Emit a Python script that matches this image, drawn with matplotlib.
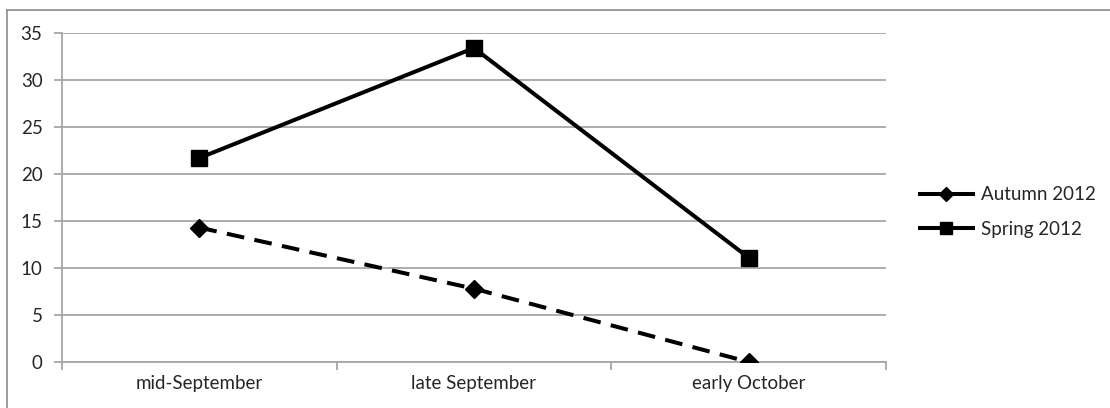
import matplotlib.pyplot as plt
from matplotlib.lines import Line2D

periods = ["mid-September", "late September", "early October"]
autumn_2012 = [14.3, 7.8, 0.0]
spring_2012 = [21.7, 33.4, 11.1]
y_ticks = [0, 5, 10, 15, 20, 25, 30, 35]

plt.rcParams['font.family'] = ['Lato', 'DejaVu Sans']
text_color = '#262626'
grid_color = '#a6a6a6'
fs = 13.5

fig = plt.figure(figsize=(11.10, 4.08), dpi=100)
ax = fig.add_axes([62 / 1110, 1 - 362 / 408, (886 - 62) / 1110, (362 - 33) / 408])

x = list(range(len(periods)))
ax.plot(x, autumn_2012, color='black', lw=2.9, linestyle=(0, (4.4, 2.6)),
        marker='D', markersize=9, label='Autumn 2012', zorder=3)
ax.plot(x, spring_2012, color='black', lw=2.9, marker='s', markersize=11,
        label='Spring 2012', zorder=3)

ax.set_xlim(-0.5, len(periods) - 0.5)
ax.set_ylim(0, 35)
ax.set_yticks(y_ticks)
ax.set_xticks(x)
ax.set_xticklabels(periods)
ax.set_xticks([-0.5, 0.5, 1.5, 2.5], minor=True)

ax.grid(axis='y', color=grid_color, lw=1.3, zorder=0)
for side in ['top', 'right']:
    ax.spines[side].set_visible(False)
for side in ['left', 'bottom']:
    ax.spines[side].set_color(grid_color)
    ax.spines[side].set_linewidth(1.3)

ax.tick_params(axis='y', length=6, width=1.3, color=grid_color, labelcolor=text_color,
               labelsize=fs, pad=8)
ax.tick_params(axis='x', which='major', length=0, labelcolor=text_color, labelsize=fs, pad=9)
ax.tick_params(axis='x', which='minor', length=6, width=1.3, color=grid_color)

handles = [
    Line2D([], [], color='black', lw=2.9, linestyle='-', marker='D', markersize=7),
    Line2D([], [], color='black', lw=2.9, linestyle='-', marker='s', markersize=9),
]
fig.legend(handles, ['Autumn 2012', 'Spring 2012'], loc='center left',
           bbox_to_anchor=(920 / 1110, 1 - 212 / 408), frameon=False,
           fontsize=fs, labelcolor=text_color, handlelength=2.8, handletextpad=0.45,
           labelspacing=0.95, borderaxespad=0, borderpad=0)

# grauer Rahmen um das Diagramm (oben und links)
fig.add_artist(Line2D([7 / 1110, 7 / 1110], [0, 1 - 10 / 408], color='#8c8c8c', lw=1.2))
fig.add_artist(Line2D([7 / 1110, 1], [1 - 10 / 408, 1 - 10 / 408], color='#8c8c8c', lw=1.2))

fig.savefig('out.png', dpi=100)
